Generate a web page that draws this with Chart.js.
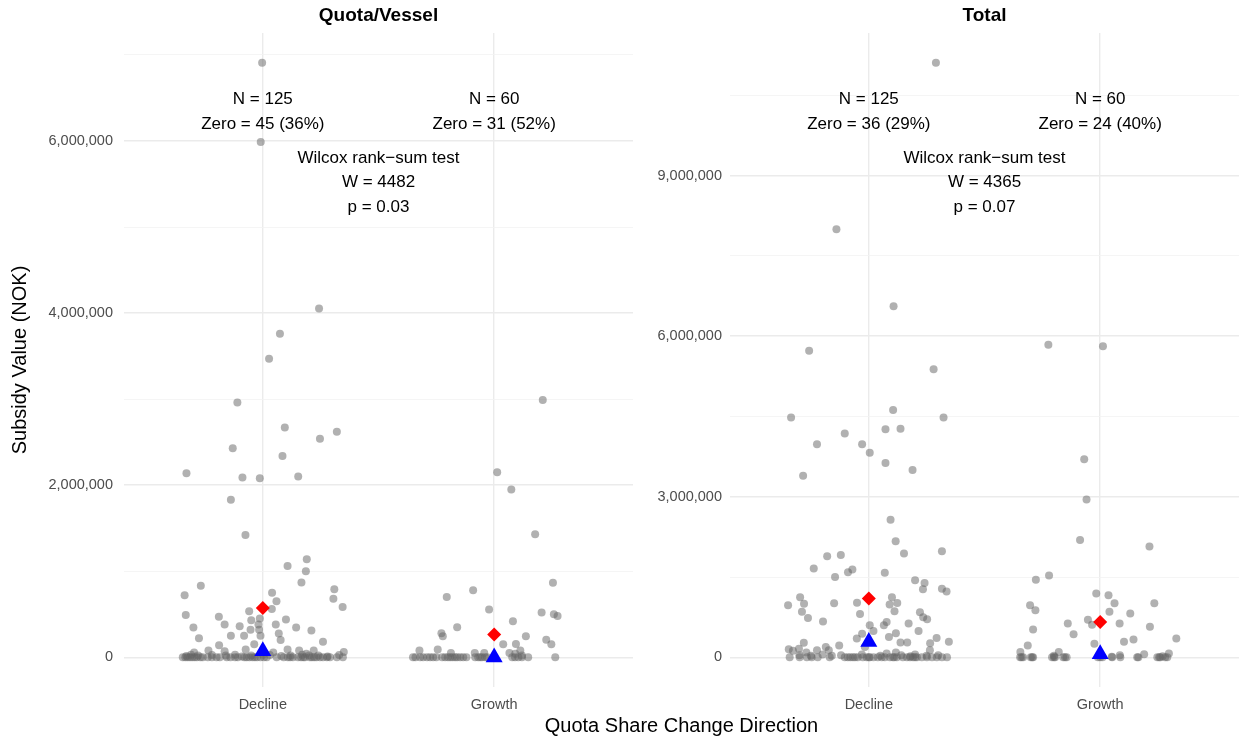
<!DOCTYPE html>
<html>
<head>
<meta charset="utf-8">
<script src="https://cdn.jsdelivr.net/npm/chart.js@4/dist/chart.umd.min.js"></script>
<style>
  body { margin: 0; background: #fff; }
  #wrap { position: relative; width: 1239px; height: 740px; font-family: "Liberation Sans", Arial, sans-serif; }
  #left  { position: absolute; left: 0; top: 0; }
  #right { position: absolute; left: 640px; top: 0; }
  #xtitle { position: absolute; left: 124px; width: 1115px; top: 714px; text-align: center; font-size: 20px; color: #000; }
</style>
</head>
<body>
<div id="wrap">
  <canvas id="left" width="640" height="740"></canvas>
  <canvas id="right" width="599" height="740"></canvas>
  <div id="xtitle">Quota Share Change Direction</div>
</div>
<script>
const FONT = '"Liberation Sans", Arial, sans-serif';

const categories  = ['Decline', 'Growth'];
const panelTitles = ['Quota/Vessel', 'Total'];

// values in million NOK, jitter = horizontal offset from the category centre
// Quota/Vessel, Decline (80 non-zero + 45 zero)
const qvDeclineVals = [6.91, 5.99, 4.055, 3.76, 3.47, 2.96, 2.67, 2.54, 2.62, 2.43, 2.34, 2.14, 2.09, 2.08, 2.10, 1.83, 1.42,
  1.06, 1.14, 1.00, 0.87, 0.83, 0.72, 0.79, 0.68, 0.585, 0.75, 0.65, 0.56, 0.49, 0.535, 0.47, 0.38, 0.345, 0.36, 0.43,
  0.45, 0.38, 0.38, 0.44, 0.345, 0.31, 0.22, 0.25, 0.25, 0.32, 0.32, 0.25, 0.275, 0.20, 0.18, 0.15, 0.14, 0.08, 0.07,
  0.09, 0.09, 0.08, 0.08, 0.06, 0.055, 0.055, 0.04,
  0.03, 0.025, 0.02, 0.03, 0.02, 0.03, 0.025, 0.02, 0.03, 0.02, 0.025, 0.015, 0.02, 0.015, 0.02, 0.01, 0.01];
const qvDeclineJit = [-0.003, -0.009, 0.243, 0.074, 0.027, -0.11, 0.095, 0.247, 0.32, -0.13, 0.085, -0.33, -0.088, -0.013, 0.153, -0.138, -0.075,
  0.107, 0.19, 0.186, 0.167, -0.268, -0.338, 0.309, 0.305, 0.345, 0.04, 0.059, 0.039, -0.333, -0.059, -0.19, -0.165, -0.30, -0.10, -0.05,
  -0.013, -0.019, 0.056, 0.10, 0.144, 0.21, -0.276, -0.138, -0.081, -0.053, -0.016, -0.01, 0.069, 0.077, 0.26, -0.037, -0.189, -0.235, -0.165,
  -0.074, 0.107, 0.157, 0.22, 0.35, -0.297, 0.045, 0.188,
  -0.31, -0.22, -0.28, -0.12, -0.05, 0.0, 0.03, 0.12, 0.17, 0.24, 0.33, -0.33, -0.16, 0.08, 0.2, -0.09, 0.28];
const qvDeclineZeroJit = [-0.346, -0.335, -0.325, -0.315, -0.305, -0.295, -0.285, -0.27, -0.238, -0.22, -0.186, -0.156, -0.108, -0.08, -0.07,
  -0.058, -0.045, -0.035, -0.025, -0.01, 0.005, 0.017, 0.06, 0.108, 0.118, 0.13, 0.152, 0.165, 0.175, 0.182, 0.203, 0.212, 0.222, 0.232,
  0.247, 0.277, 0.346, -0.12, -0.2, 0.09, 0.29, -0.14, 0.26, 0.32, -0.26];

// Quota/Vessel, Growth (29 non-zero + 31 zero)
const qvGrowthVals = [2.99, 2.15, 1.95, 1.43, 0.865, 0.70, 0.78, 0.555, 0.52, 0.50, 0.48, 0.35, 0.42, 0.28, 0.245, 0.245, 0.205,
  0.15, 0.15, 0.155, 0.08, 0.09, 0.08, 0.05, 0.05, 0.05, 0.05, 0.04, 0.02];
const qvGrowthJit = [0.21, 0.013, 0.074, 0.177, 0.254, -0.205, -0.091, -0.022, 0.205, 0.258, 0.274, -0.16, 0.081, -0.228, -0.222, 0.137, 0.225,
  0.247, 0.039, 0.094, 0.113, -0.244, -0.323, -0.187, -0.084, -0.043, 0.066, 0.091, 0.12];
const qvGrowthZeroJit = [-0.351, -0.307, -0.277, -0.264, -0.225, -0.212, -0.19, -0.169, -0.147, -0.134, -0.082, -0.069, -0.052, -0.039,
  0.078, 0.104, 0.147, 0.264, -0.34, -0.32, -0.29, -0.25, -0.2, -0.18, -0.16, -0.12, -0.06, -0.03, 0.09, 0.12, 0.0];

// Total, Decline (89 non-zero + 36 zero)
const totDeclineVals = [11.11, 8.0, 6.56, 5.73, 5.38, 4.48, 4.48, 4.62, 4.26, 4.27, 4.18, 3.98, 3.98, 3.82, 3.63, 3.50, 3.39,
  2.57, 2.17, 1.94, 1.98, 1.89, 1.91, 1.66, 1.59, 1.64, 1.50, 1.58, 1.44, 1.39, 1.27, 1.28, 1.23, 1.12, 0.97, 1.0, 0.85,
  0.735, 1.01, 1.02, 0.81, 1.12, 0.985, 1.015, 0.86, 0.84, 0.75, 0.71, 0.67, 0.60, 0.66, 0.63, 0.49, 0.60, 0.49, 0.44,
  0.35, 0.38, 0.45, 0.275, 0.275, 0.36, 0.29, 0.26, 0.22, 0.27, 0.15, 0.12, 0.16, 0.09, 0.13, 0.19, 0.13, 0.19, 0.09,
  0.13, 0.07,
  0.04, 0.03, 0.05, 0.03, 0.04, 0.05, 0.03, 0.04, 0.05, 0.03, 0.04, 0.02];
const totDeclineJit = [0.29, -0.14, 0.107, -0.258, 0.28, -0.336, 0.323, 0.105, 0.072, 0.137, -0.104, -0.224, -0.029, 0.004, 0.072, 0.189, -0.284,
  0.094, 0.116, 0.152, 0.316, -0.18, -0.121, -0.238, -0.09, -0.071, -0.146, 0.069, 0.2, 0.241, 0.234, 0.316, 0.336, -0.297, -0.349, -0.28, -0.289,
  -0.263, -0.15, -0.051, -0.038, 0.1, 0.09, 0.123, 0.111, 0.221, 0.235, 0.252, -0.198, 0.065, 0.077, 0.172, 0.215, 0.004, 0.02, -0.029,
  -0.052, 0.087, 0.117, 0.137, 0.166, 0.293, 0.346, 0.265, -0.128, -0.281, -0.346, -0.328, -0.302, -0.27, -0.224, -0.186, -0.173, -0.017, 0.117,
  0.264, 0.077,
  -0.3, -0.25, -0.2, -0.16, -0.12, -0.03, 0.05, 0.14, 0.2, 0.25, 0.3, 0.18];
const totDeclineZeroJit = [-0.342, -0.299, -0.268, -0.247, -0.221, -0.169, -0.104, -0.091, -0.069, -0.048, -0.026, -0.009, 0.004, 0.039,
  0.056, 0.069, 0.091, 0.104, 0.121, 0.147, 0.165, 0.178, 0.191, 0.208, 0.229, 0.251, 0.273, 0.294, 0.316, 0.338,
  -0.08, -0.06, 0.0, 0.02, 0.11, 0.2];

// Total, Growth (36 non-zero + 24 zero)
const totGrowthVals = [5.84, 5.81, 3.70, 2.95, 2.19, 2.07, 1.45, 1.53, 1.19, 1.16, 1.01, 1.01, 0.97, 0.88, 0.85, 0.82, 0.70,
  0.61, 0.63, 0.63, 0.57, 0.52, 0.43, 0.35, 0.29, 0.33, 0.255, 0.22, 0.10, 0.10, 0.04, 0.056, 0.07, 0.01, 0.03, 0.02];
const totGrowthJit = [-0.224, 0.012, -0.069, -0.059, -0.087, 0.213, -0.278, -0.221, -0.017, 0.036, 0.062, 0.234, -0.303, -0.28, 0.04, 0.13, -0.053,
  -0.035, -0.14, 0.084, 0.215, -0.29, -0.115, 0.329, 0.103, 0.144, -0.025, -0.313, -0.345, -0.179, 0.085, 0.19, 0.297, 0.05, -0.2, 0.27];
const totGrowthZeroJit = [-0.346, -0.333, -0.294, -0.29, -0.208, -0.195, -0.152, 0.052, 0.087, 0.16, 0.247, 0.26, 0.281,
  -0.34, -0.3, -0.2, -0.16, -0.145, 0.0, -0.01, 0.01, 0.165, 0.255, 0.29];

// group means (red diamond) and medians (blue triangle), million NOK
const qvMeans    = [0.573, 0.264];
const qvMedians  = [0.073, 0.0];
const totMeans   = [1.097, 0.66];
const totMedians = [0.29, 0.06];

// tick labels
const qvTickValues  = [0, 2e6, 4e6, 6e6];
const qvMinorValues = [1e6, 3e6, 5e6, 7e6];
const totTickValues  = [0, 3e6, 6e6, 9e6];
const totMinorValues = [1.5e6, 4.5e6, 7.5e6, 10.5e6];

// annotation text
const qvN     = ['N = 125', 'N = 60'];
const qvZero  = ['Zero = 45 (36%)', 'Zero = 31 (52%)'];
const qvTest  = ['Wilcox rank\u2212sum test', 'W = 4482', 'p = 0.03'];
const totN    = ['N = 125', 'N = 60'];
const totZero = ['Zero = 36 (29%)', 'Zero = 24 (40%)'];
const totTest = ['Wilcox rank\u2212sum test', 'W = 4365', 'p = 0.07'];

function toPoints(vals, jit, centre) {
  return vals.map((v, i) => ({ x: centre + jit[i], y: v * 1e6 }));
}
function zeroPoints(jit, centre) {
  return jit.map(j => ({ x: centre + j, y: 0 }));
}

const panelText = {
  id: 'panelText',
  afterDatasetsDraw(chart, args, o) {
    const { ctx, chartArea: ca, scales: { x } } = chart;
    ctx.save();
    ctx.fillStyle = '#000';
    ctx.textAlign = 'center';
    ctx.textBaseline = 'middle';
    ctx.font = 'bold 19px ' + FONT;
    ctx.fillText(o.title, (ca.left + ca.right) / 2, 16);
    ctx.font = '17px ' + FONT;
    [1, 2].forEach((c, i) => {
      const px = x.getPixelForValue(c);
      ctx.fillText(o.n[i], px, ca.top + 66);
      ctx.fillText(o.zero[i], px, ca.top + 91);
    });
    const mid = x.getPixelForValue(1.5);
    o.test.forEach((t, i) => ctx.fillText(t, mid, ca.top + 125 + i * 24.5));
    ctx.restore();
  }
};

function buildPanel(canvasId, p) {
  const yMax = Math.max(...p.dVals, ...p.gVals) * 1e6;
  const pad = yMax * 0.05;
  const grey = 'rgba(100,100,100,0.5)';
  const isMajor = v => p.ticks.includes(v);

  return new Chart(document.getElementById(canvasId), {
    type: 'scatter',
    data: {
      datasets: [
        { data: p.means.map((m, i) => ({ x: i + 1, y: m * 1e6 })), pointStyle: 'rectRot', pointRadius: 7,
          backgroundColor: '#ff0000', borderWidth: 0, order: 1 },
        { data: p.medians.map((m, i) => ({ x: i + 1, y: m * 1e6 })), pointStyle: 'triangle', pointRadius: 9.8,
          backgroundColor: '#0000ff', borderWidth: 0, order: 2 },
        { data: toPoints(p.dVals, p.dJit, 1).concat(zeroPoints(p.dZero, 1)), pointRadius: 4,
          backgroundColor: grey, borderWidth: 0, order: 3 },
        { data: toPoints(p.gVals, p.gJit, 2).concat(zeroPoints(p.gZero, 2)), pointRadius: 4,
          backgroundColor: grey, borderWidth: 0, order: 3 }
      ]
    },
    options: {
      responsive: false,
      animation: false,
      events: [],
      layout: { autoPadding: false, padding: { top: 33, right: p.padRight, left: 0, bottom: 0 } },
      plugins: {
        legend: { display: false },
        tooltip: { enabled: false },
        panelText: { title: p.title, n: p.n, zero: p.zero, test: p.test }
      },
      scales: {
        x: {
          type: 'linear', min: 0.4, max: 2.6,
          afterBuildTicks: s => { s.ticks = [{ value: 1 }, { value: 2 }]; },
          afterFit: s => { s.height = 53; },
          border: { display: false },
          grid: { drawTicks: false, color: '#ebebeb', lineWidth: 1.4 },
          ticks: { padding: 9, color: '#4d4d4d', font: { size: 14.5, family: FONT },
                   callback: v => categories[v - 1] }
        },
        y: {
          type: 'linear', min: -pad, max: yMax + pad,
          afterBuildTicks: s => {
            s.ticks = p.ticks.concat(p.minor).sort((a, b) => a - b).map(v => ({ value: v }));
          },
          afterFit: s => { s.width = p.yWidth; },
          border: { display: false },
          grid: {
            drawTicks: false,
            color: c => isMajor(c.tick.value) ? '#ebebeb' : '#f3f3f3',
            lineWidth: c => isMajor(c.tick.value) ? 1.4 : 0.8
          },
          ticks: {
            autoSkip: false, padding: p.tickPad, color: '#4d4d4d', font: { size: 14.5, family: FONT },
            callback: v => isMajor(v) ? v.toLocaleString('en-US') : ''
          },
          title: {
            display: p.yTitle !== '', text: p.yTitle, color: '#000',
            font: { size: 20, family: FONT }, padding: { top: 8, bottom: 0 }
          }
        }
      }
    },
    plugins: [panelText]
  });
}

buildPanel('left', {
  title: panelTitles[0], dVals: qvDeclineVals, dJit: qvDeclineJit, dZero: qvDeclineZeroJit,
  gVals: qvGrowthVals, gJit: qvGrowthJit, gZero: qvGrowthZeroJit,
  means: qvMeans, medians: qvMedians, ticks: qvTickValues, minor: qvMinorValues,
  n: qvN, zero: qvZero, test: qvTest, yWidth: 124, padRight: 7, tickPad: 11, yTitle: 'Subsidy Value (NOK)'
});
buildPanel('right', {
  title: panelTitles[1], dVals: totDeclineVals, dJit: totDeclineJit, dZero: totDeclineZeroJit,
  gVals: totGrowthVals, gJit: totGrowthJit, gZero: totGrowthZeroJit,
  means: totMeans, medians: totMedians, ticks: totTickValues, minor: totMinorValues,
  n: totN, zero: totZero, test: totTest, yWidth: 90, padRight: 0, tickPad: 8, yTitle: ''
});
</script>
</body>
</html>
